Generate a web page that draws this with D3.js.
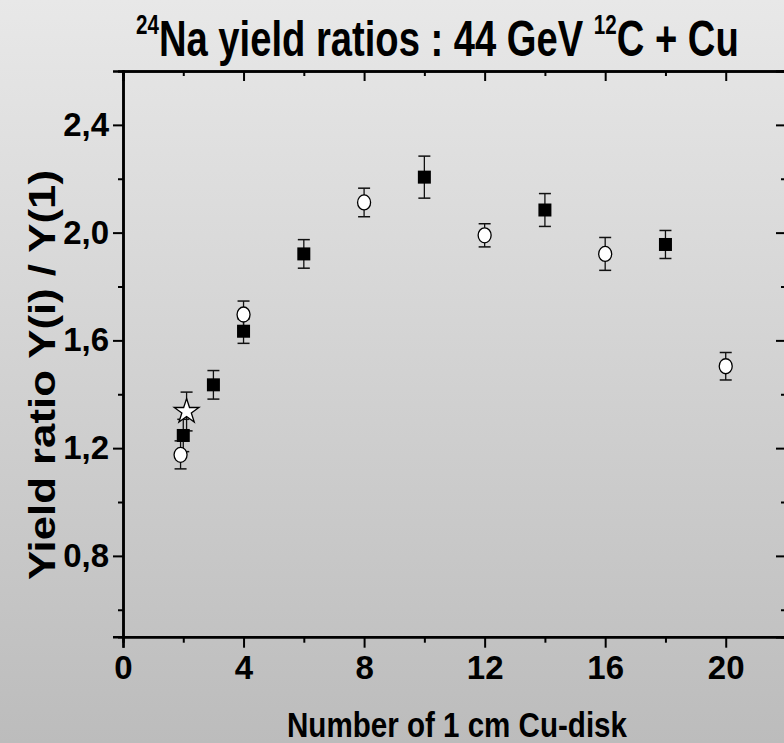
<!DOCTYPE html>
<html>
<head>
<meta charset="utf-8">
<script src="https://cdn.jsdelivr.net/npm/d3@7"></script>
<style>
  html, body { margin: 0; padding: 0; }
  body { width: 784px; height: 743px; overflow: hidden; }
  text { font-family: "Liberation Sans", Arial, sans-serif; font-weight: bold; fill: #000; }
</style>
</head>
<body>
<svg id="chart" width="784" height="743"></svg>
<script>
// 24Na yield ratio along the Cu-disk stack, three measurement sets
const squareX   = [2, 3, 4, 6, 10, 14, 18];
const squareY   = [1.247, 1.435, 1.634, 1.921, 2.206, 2.084, 1.956];
const squareErr = [0.06, 0.053, 0.045, 0.053, 0.078, 0.061, 0.052];

const circleX   = [1.91, 4, 8, 12, 16, 20];
const circleY   = [1.175, 1.696, 2.112, 1.99, 1.921, 1.504];
const circleErr = [0.052, 0.05, 0.053, 0.043, 0.061, 0.051];

const starX   = [2.11];
const starY   = [1.336];
const starErr = [0.072];

const xTicksMajor = [0, 4, 8, 12, 16, 20];
const xTicksMinor = [2, 6, 10, 14, 18];
const yTicksMajor = [0.8, 1.2, 1.6, 2.0, 2.4];
const yTicksMinor = [0.6, 1.0, 1.4, 1.8, 2.2];

const svg = d3.select("#chart");
const W = 784, H = 743;

// background gradient
const defs = svg.append("defs");
const grad = defs.append("linearGradient").attr("id", "bg")
  .attr("x1", 0).attr("y1", 0).attr("x2", 0).attr("y2", 1);
grad.append("stop").attr("offset", "0%").attr("stop-color", "#e8e8e8");
grad.append("stop").attr("offset", "100%").attr("stop-color", "#bcbcbc");
svg.append("rect").attr("width", W).attr("height", H).attr("fill", "url(#bg)");

const plotL = 123, plotR = 786, plotT = 71, plotB = 636.7;
const x = d3.scaleLinear().domain([0, 22]).range([plotL, plotR]);
const y = d3.scaleLinear().domain([0.5, 2.6]).range([plotB, plotT]);

const fmt = d => d3.format(".1f")(d).replace(".", ",");

// axes: bottom & left ticks outward, top & right ticks inward
svg.append("g").attr("transform", `translate(0,${plotB})`)
  .call(d3.axisBottom(x).tickValues(xTicksMajor).tickSize(11).tickPadding(8).tickFormat(d3.format("d")));
svg.append("g").attr("transform", `translate(0,${plotB})`)
  .call(d3.axisBottom(x).tickValues(xTicksMinor).tickSize(6).tickFormat(""));
svg.append("g").attr("transform", `translate(${plotL},0)`)
  .call(d3.axisLeft(y).tickValues(yTicksMajor).tickSize(10).tickPadding(4).tickFormat(fmt));
svg.append("g").attr("transform", `translate(${plotL},0)`)
  .call(d3.axisLeft(y).tickValues(yTicksMinor).tickSize(5).tickFormat(""));
svg.append("g").attr("transform", `translate(0,${plotT})`)
  .call(d3.axisBottom(x).tickValues(xTicksMajor).tickSize(10).tickFormat(""));
svg.append("g").attr("transform", `translate(0,${plotT})`)
  .call(d3.axisBottom(x).tickValues(xTicksMinor).tickSize(5).tickFormat(""));
svg.append("g").attr("transform", `translate(${plotR},0)`)
  .call(d3.axisLeft(y).tickValues(yTicksMajor).tickSize(10).tickFormat(""));
svg.append("g").attr("transform", `translate(${plotR},0)`)
  .call(d3.axisLeft(y).tickValues(yTicksMinor).tickSize(5).tickFormat(""));

svg.selectAll(".domain").attr("stroke", "#000").attr("stroke-width", 2.5);
svg.selectAll(".tick line").attr("stroke", "#000").attr("stroke-width", 2);
svg.selectAll(".tick text").style("font-size", "33px").style("font-weight", "bold")
  .attr("fill", "#000").style("font-family", '"Liberation Sans", Arial, sans-serif');

// error bars
function errorBars(xs, ys, es) {
  const g = svg.append("g");
  xs.forEach((xv, i) => {
    const cx = x(xv), y0 = y(ys[i] - es[i]), y1 = y(ys[i] + es[i]);
    g.append("line").attr("x1", cx).attr("x2", cx).attr("y1", y0).attr("y2", y1)
      .attr("stroke", "#111").attr("stroke-width", 1.3);
    [y0, y1].forEach(yy => g.append("line")
      .attr("x1", cx - 6).attr("x2", cx + 6).attr("y1", yy).attr("y2", yy)
      .attr("stroke", "#111").attr("stroke-width", 1.5));
  });
}
errorBars(squareX, squareY, squareErr);
errorBars(circleX, circleY, circleErr);
errorBars(starX, starY, starErr);

// filled squares
svg.append("g").selectAll("rect").data(squareX).join("rect")
  .attr("x", (d) => x(d) - 6.5)
  .attr("y", (d, i) => y(squareY[i]) - 6.5)
  .attr("width", 13).attr("height", 13).attr("fill", "#000");

// open circles
svg.append("g").selectAll("ellipse").data(circleX).join("ellipse")
  .attr("cx", d => x(d)).attr("cy", (d, i) => y(circleY[i]))
  .attr("rx", 6.5).attr("ry", 7.5)
  .attr("fill", "#fff").attr("stroke", "#000").attr("stroke-width", 1.3);

// open star
const star = d3.symbol().type(d3.symbolStar).size(190);
svg.append("g").selectAll("path").data(starX).join("path")
  .attr("transform", (d, i) => `translate(${x(d)},${y(starY[i])})`)
  .attr("d", star).attr("fill", "#fff").attr("stroke", "#000").attr("stroke-width", 1.3);

// title with isotope superscripts, narrowed by a horizontal scale
const titleG = svg.append("g");
const title = titleG.append("text").attr("x", 0).attr("y", 0).style("font-size", "50px");
title.append("tspan").text("24").style("font-size", "27px").attr("dy", -22);
title.append("tspan").text("Na yield ratios : 44 GeV ").attr("dy", 22);
title.append("tspan").text("12").style("font-size", "27px").attr("dy", -22);
title.append("tspan").text("C + Cu").attr("dy", 22);
const titleLen = title.node().getComputedTextLength();
titleG.attr("transform", `translate(136,56) scale(${603 / titleLen},1)`);

// axis titles
svg.append("text").attr("x", 457).attr("y", 737).attr("text-anchor", "middle")
  .attr("textLength", 340).attr("lengthAdjust", "spacingAndGlyphs")
  .style("font-size", "35px").text("Number of 1 cm Cu-disk");

svg.append("text").attr("transform", "translate(55,375) rotate(-90)")
  .attr("text-anchor", "middle")
  .attr("textLength", 410).attr("lengthAdjust", "spacingAndGlyphs")
  .style("font-size", "37px").text("Yield ratio  Y(i) / Y(1)");
</script>
</body>
</html>
